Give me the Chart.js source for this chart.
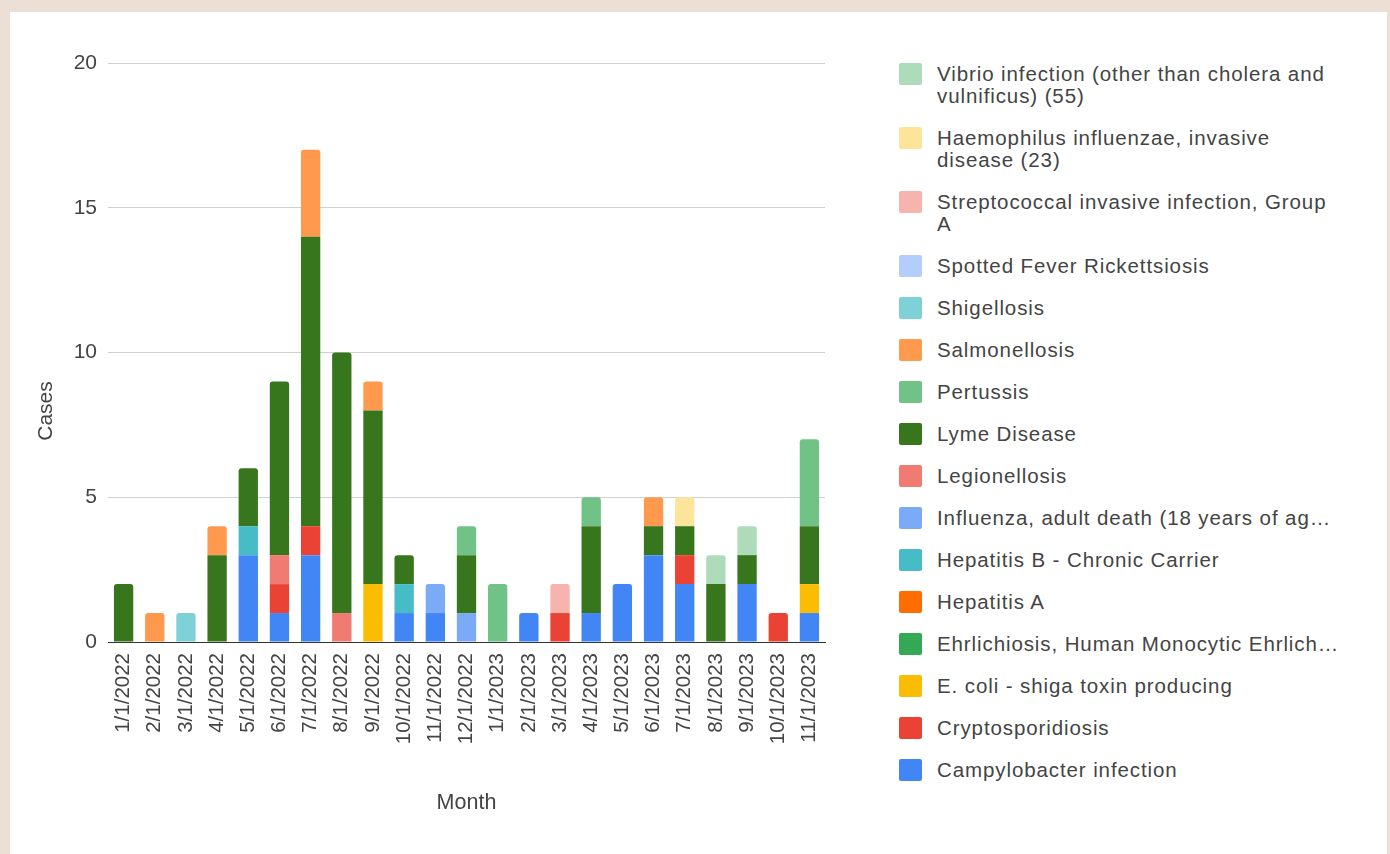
<!DOCTYPE html>
<html>
<head>
<meta charset="utf-8">
<script src="https://cdn.jsdelivr.net/npm/chart.js@4"></script>
<style>
  html, body { margin: 0; padding: 0; background: #ece0d6; }
  body { width: 1390px; height: 854px; position: relative; overflow: hidden; font-family: "Liberation Sans", Arial, sans-serif; }
  #card { position: absolute; left: 10px; top: 12px; width: 1377px; height: 842px; background: #fff; }
  #wrap { position: absolute; left: 0; top: 0; width: 880px; height: 854px; }
  #legend { position: absolute; left: 899px; top: 63px; width: 460px; color: #444; font-size: 20.5px; letter-spacing: 0.9px; line-height: 22px; }
  .item { display: flex; align-items: flex-start; margin-bottom: 20px; }
  .box { width: 23px; height: 22px; flex: none; margin-right: 15px; border-radius: 2px; }
  .txt { width: 394px; }
  .txt.nowrap { white-space: nowrap; width: auto; }
</style>
</head>
<body>
<div id="card"></div>
<div id="wrap"><canvas id="casesChart" width="880" height="854"></canvas></div>
<div id="legend"></div>
<script>
const months = ['1/1/2022', '2/1/2022', '3/1/2022', '4/1/2022', '5/1/2022', '6/1/2022', '7/1/2022', '8/1/2022',
  '9/1/2022', '10/1/2022', '11/1/2022', '12/1/2022', '1/1/2023', '2/1/2023', '3/1/2023', '4/1/2023',
  '5/1/2023', '6/1/2023', '7/1/2023', '8/1/2023', '9/1/2023', '10/1/2023', '11/1/2023'];

const campylobacter = [0, 0, 0, 0, 3, 1, 3, 0, 0, 1, 1, 0, 0, 1, 0, 1, 2, 3, 2, 0, 2, 0, 1];
const cryptosporidiosis = [0, 0, 0, 0, 0, 1, 1, 0, 0, 0, 0, 0, 0, 0, 1, 0, 0, 0, 1, 0, 0, 1, 0];
const eColi = [0, 0, 0, 0, 0, 0, 0, 0, 2, 0, 0, 0, 0, 0, 0, 0, 0, 0, 0, 0, 0, 0, 1];
const ehrlichiosis = [0, 0, 0, 0, 0, 0, 0, 0, 0, 0, 0, 0, 0, 0, 0, 0, 0, 0, 0, 0, 0, 0, 0];
const hepatitisA = [0, 0, 0, 0, 0, 0, 0, 0, 0, 0, 0, 0, 0, 0, 0, 0, 0, 0, 0, 0, 0, 0, 0];
const hepatitisB = [0, 0, 0, 0, 1, 0, 0, 0, 0, 1, 0, 0, 0, 0, 0, 0, 0, 0, 0, 0, 0, 0, 0];
const influenza = [0, 0, 0, 0, 0, 0, 0, 0, 0, 0, 1, 1, 0, 0, 0, 0, 0, 0, 0, 0, 0, 0, 0];
const legionellosis = [0, 0, 0, 0, 0, 1, 0, 1, 0, 0, 0, 0, 0, 0, 0, 0, 0, 0, 0, 0, 0, 0, 0];
const lyme = [2, 0, 0, 3, 2, 6, 10, 9, 6, 1, 0, 2, 0, 0, 0, 3, 0, 1, 1, 2, 1, 0, 2];
const pertussis = [0, 0, 0, 0, 0, 0, 0, 0, 0, 0, 0, 1, 2, 0, 0, 1, 0, 0, 0, 0, 0, 0, 3];
const salmonellosis = [0, 1, 0, 1, 0, 0, 3, 0, 1, 0, 0, 0, 0, 0, 0, 0, 0, 1, 0, 0, 0, 0, 0];
const shigellosis = [0, 0, 1, 0, 0, 0, 0, 0, 0, 0, 0, 0, 0, 0, 0, 0, 0, 0, 0, 0, 0, 0, 0];
const spottedFever = [0, 0, 0, 0, 0, 0, 0, 0, 0, 0, 0, 0, 0, 0, 0, 0, 0, 0, 0, 0, 0, 0, 0];
const streptococcal = [0, 0, 0, 0, 0, 0, 0, 0, 0, 0, 0, 0, 0, 0, 1, 0, 0, 0, 0, 0, 0, 0, 0];
const haemophilus = [0, 0, 0, 0, 0, 0, 0, 0, 0, 0, 0, 0, 0, 0, 0, 0, 0, 0, 1, 0, 0, 0, 0];
const vibrio = [0, 0, 0, 0, 0, 0, 0, 0, 0, 0, 0, 0, 0, 0, 0, 0, 0, 0, 0, 1, 1, 0, 0];

const yTicks = [0, 5, 10, 15, 20];

// bottom of stack first
const series = [
  ['Campylobacter infection', campylobacter, '#4285f4'],
  ['Cryptosporidiosis', cryptosporidiosis, '#ea4335'],
  ['E. coli - shiga toxin producing', eColi, '#fbbc04'],
  ['Ehrlichiosis, Human Monocytic Ehrlich\u2026', ehrlichiosis, '#34a853'],
  ['Hepatitis A', hepatitisA, '#ff6d01'],
  ['Hepatitis B - Chronic Carrier', hepatitisB, '#46bdc6'],
  ['Influenza, adult death (18 years of ag\u2026', influenza, '#7baaf7'],
  ['Legionellosis', legionellosis, '#f07b72'],
  ['Lyme Disease', lyme, '#38761d'],
  ['Pertussis', pertussis, '#71c287'],
  ['Salmonellosis', salmonellosis, '#ff994d'],
  ['Shigellosis', shigellosis, '#7ed1d7'],
  ['Spotted Fever Rickettsiosis', spottedFever, '#b3cefb'],
  ['Streptococcal invasive infection, Group A', streptococcal, '#f7b4ae'],
  ['Haemophilus influenzae, invasive disease (23)', haemophilus, '#fde49b'],
  ['Vibrio infection (other than cholera and vulnificus) (55)', vibrio, '#aedcba']
];

const txt = '#444';
const font = 'Liberation Sans, Arial, sans-serif';

// y title sits lower than the plot middle in the original, so draw it by hand
const yTitle = {
  id: 'yTitle',
  afterDraw(chart) {
    const ctx = chart.ctx;
    ctx.save();
    ctx.translate(46, 411);
    ctx.rotate(-Math.PI / 2);
    ctx.fillStyle = txt;
    ctx.font = '21px ' + font;
    ctx.textAlign = 'center';
    ctx.textBaseline = 'middle';
    ctx.fillText('Cases', 0, 0);
    ctx.restore();
  }
};

const chart = new Chart(document.getElementById('casesChart'), {
  type: 'bar',
  data: {
    labels: months,
    datasets: series.map(([label, data, color]) => ({
      label: label,
      data: data,
      backgroundColor: color,
      borderWidth: 0,
      borderRadius: 3,
      barPercentage: 0.62,
      categoryPercentage: 1
    }))
  },
  options: {
    responsive: false,
    animation: false,
    layout: { padding: { left: 10, top: 63, right: 55, bottom: 38 } },
    plugins: {
      legend: { display: false },
      tooltip: { enabled: false }
    },
    scales: {
      x: {
        stacked: true,
        grid: { display: false, drawTicks: false },
        border: { color: '#333', width: 1 },
        ticks: { color: txt, font: { family: font, size: 20.5 }, minRotation: 90, maxRotation: 90, padding: 11, autoSkip: false },
        title: { display: true, text: 'Month', color: txt, font: { family: font, size: 21.5 }, padding: 0 },
        afterFit: (scale) => { scale.height = 174; }
      },
      y: {
        stacked: true,
        min: 0,
        max: 20,
        afterBuildTicks: (scale) => { scale.ticks = yTicks.map(v => ({ value: v })); },
        grid: { color: (c) => c.tick && c.tick.value === 0 ? '#333' : '#d0d0d0', drawTicks: false },
        border: { display: false },
        ticks: { color: txt, font: { family: font, size: 21 }, padding: 11 },
        title: { display: false },
        afterFit: (scale) => { scale.width = 98; }
      }
    }
  },
  plugins: [yTitle]
});

// legend in reverse order, top of stack first, with wrapping text
const legend = document.getElementById('legend');
chart.data.datasets.slice().reverse().forEach(ds => {
  const item = document.createElement('div');
  item.className = 'item';
  item.innerHTML = '<div class="box" style="background:' + ds.backgroundColor + '"></div><div class="txt"></div>';
  const t = item.querySelector('.txt');
  t.textContent = ds.label;
  if (ds.label.endsWith('\u2026')) t.classList.add('nowrap');
  legend.appendChild(item);
});
</script>
</body>
</html>
